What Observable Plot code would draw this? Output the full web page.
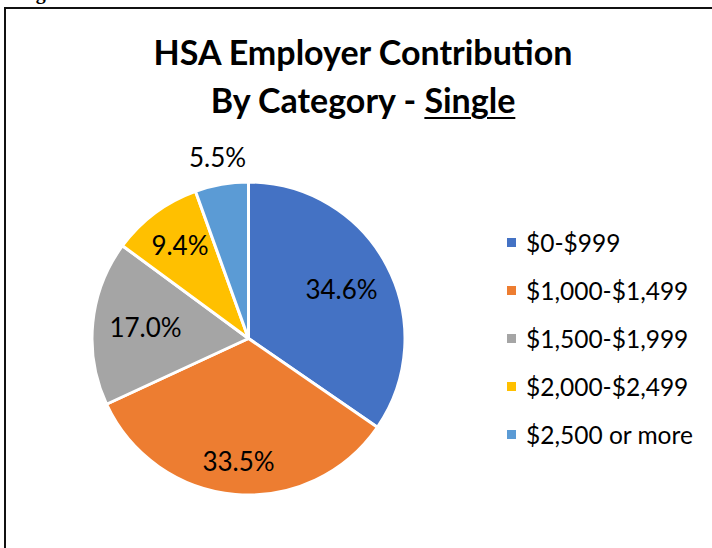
<!DOCTYPE html>
<html>
<head>
<meta charset="utf-8">
<script src="https://cdn.jsdelivr.net/npm/d3@7"></script>
<script src="https://cdn.jsdelivr.net/npm/@observablehq/plot@0.6"></script>
<style>
  html, body { margin: 0; padding: 0; background: #fff; overflow: hidden; }
  body { width: 712px; height: 548px; position: relative; font-family: Lato, "Open Sans", sans-serif; }
  #frame { position: absolute; left: 4px; top: 7px; width: 760px; height: 600px; border-left: 2px solid #111; border-top: 2px solid #111; box-sizing: border-box; }
  #cut { position: absolute; left: 18px; top: -18px; font: bold 20px/20px "Liberation Serif", serif; color: #000; white-space: nowrap; }
  #title { position: absolute; left: 0; top: 28px; width: 726px; text-align: center; font-weight: bold; font-size: 34px; line-height: 48px; color: #000; }
  #title u { text-decoration-thickness: 2px; text-underline-offset: 4px; }
  #chart { position: absolute; left: 0; top: 130px; }
  #legend { position: absolute; left: 507px; top: 218px; font-size: 24.5px; color: #000; }
  #legend .item { display: flex; align-items: center; height: 48px; }
  #legend .sw { width: 9px; height: 9px; margin-right: 10px; }
</style>
</head>
<body>
<div id="cut">Figure 6</div>
<div id="frame"></div>
<div id="title">HSA Employer Contribution<br>By Category - <u>Single</u></div>
<div id="chart"></div>
<div id="legend"></div>
<script>
// ---- data ----
const categories = ["$0-$999", "$1,000-$1,499", "$1,500-$1,999", "$2,000-$2,499", "$2,500 or more"];
const shares = [34.6, 33.5, 17.0, 9.4, 5.5];
const labels = ["34.6%", "33.5%", "17.0%", "9.4%", "5.5%"];
const colors = ["#4472C4", "#ED7D31", "#A5A5A5", "#FFC000", "#5B9BD5"];

const rows = categories.map((c, i) => ({category: c, value: shares[i], label: labels[i]}));
const arcs = d3.pie().sort(null).value(d => d.value)(rows);

// ---- layout constants ----
const W = 712, H = 418, mL = 92, mR = 307, mT = 52, mB = 53;
const R = (W - mL - mR) / 2;            // pie radius in px
const labelFont = 26;
const labelFamily = "Lato, 'Open Sans', sans-serif";
const ctx = document.createElement("canvas").getContext("2d");
ctx.font = `${labelFont}px ${labelFamily}`;

// Excel-like "best fit": inside labels pushed out until the far corner of their box
// reaches ~0.905 of the radius; small slices sit outside.
const labelData = arcs.map(a => {
  const mid = (a.startAngle + a.endAngle) / 2;
  const dx = Math.sin(mid), dy = Math.cos(mid);
  const hw = ctx.measureText(a.data.label).width / 2, hh = labelFont * 0.36;
  let r;
  if (a.data.value < 7) {
    r = 1.17;
  } else {
    const target = 0.9 * R;
    let t = 0;
    for (let s = 0; s < R; s += 0.5) {
      const cx = s * dx + Math.sign(dx) * hw, cy = s * dy + Math.sign(dy) * hh;
      if (Math.hypot(cx, cy) >= target) { t = s; break; }
    }
    r = t / R;
  }
  return {x: r * dx, y: r * dy, label: a.data.label};
});

function pieMark(index, scales) {
  const cx = scales.x(0), cy = scales.y(0);
  const rad = scales.x(1) - scales.x(0);
  const arcGen = d3.arc().innerRadius(0).outerRadius(rad);
  const g = d3.create("svg:g").attr("transform", `translate(${cx},${cy})`);
  g.selectAll("path").data(arcs).join("path")
    .attr("d", arcGen)
    .attr("fill", (d, i) => colors[i])
    .attr("stroke", "#fff")
    .attr("stroke-width", 3)
    .attr("stroke-linejoin", "round");
  return g.node();
}

const plot = Plot.plot({
  width: W,
  height: H,
  marginLeft: mL,
  marginRight: mR,
  marginTop: mT,
  marginBottom: mB,
  x: {domain: [-1, 1], axis: null},
  y: {domain: [-1, 1], axis: null},
  style: {background: "transparent", overflow: "visible"},
  marks: [
    pieMark,
    Plot.text(labelData, {x: "x", y: "y", text: "label", fontSize: labelFont, fill: "#000", fontFamily: labelFamily})
  ]
});
document.getElementById("chart").appendChild(plot);

const legend = d3.select("#legend");
categories.forEach((c, i) => {
  const item = legend.append("div").attr("class", "item");
  item.append("div").attr("class", "sw").style("background", colors[i]);
  item.append("span").text(c);
});
</script>
</body>
</html>
